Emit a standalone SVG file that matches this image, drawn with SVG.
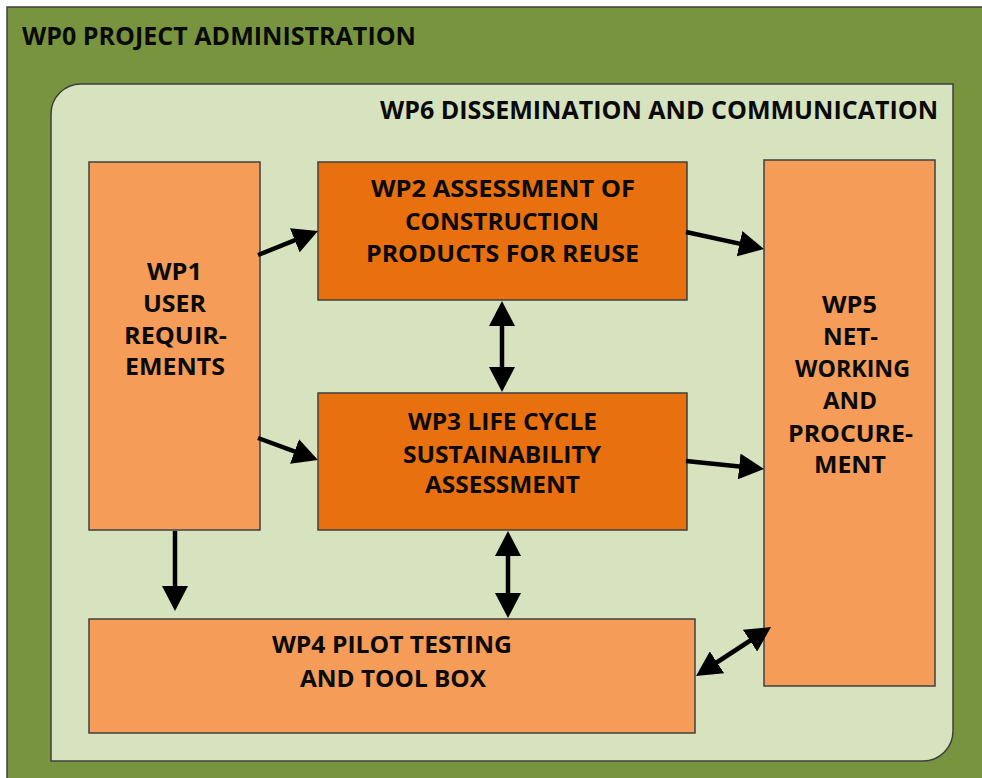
<svg xmlns="http://www.w3.org/2000/svg" width="982" height="778" viewBox="0 0 982 778">
<defs>
<style>
.box{stroke:#404040;stroke-width:1.5}
.dark{fill:#E8700E}
.light{fill:#F49C58}
.t{font-family:"Open Sans","Liberation Sans",sans-serif;font-weight:700;fill:#0a0a0a;text-anchor:middle;font-size:23px}
.h{font-family:"Open Sans","Liberation Sans",sans-serif;font-weight:700;fill:#0a0a0a;font-size:25px}
.c{stroke:#000;stroke-width:4.5;fill:none}
.one{marker-end:url(#ah)}
.two{marker-start:url(#ah);marker-end:url(#ah)}
</style>
<marker id="ah" viewBox="0 0 25 26" refX="15" refY="13" markerWidth="25" markerHeight="26" markerUnits="userSpaceOnUse" orient="auto-start-reverse">
<path d="M0,0 L25,13 L0,26 Z" fill="#000"/>
</marker>
</defs>
<rect width="982" height="778" fill="#fff"/>
<g id="wp0">
<rect x="7" y="7" width="990" height="790" fill="#78943E" stroke="#404040" stroke-width="1.5"/>
<text class="h" x="22" y="45" textLength="394" lengthAdjust="spacingAndGlyphs">WP0 PROJECT ADMINISTRATION</text>
</g>
<g id="wp6">
<path d="M51,114 A30,30 0 0 1 81,84 L953,84 L953,731 A30,30 0 0 1 923,761 L51,761 Z" fill="#D7E3BF" stroke="#404040" stroke-width="1.5"/>
<text class="h" x="380" y="119" textLength="558" lengthAdjust="spacingAndGlyphs">WP6 DISSEMINATION AND COMMUNICATION</text>
</g>
<g id="wp1">
<rect class="box light" x="89" y="162" width="171" height="368"/>
<text class="t" x="174.5" y="280" textLength="55" lengthAdjust="spacingAndGlyphs">WP1</text>
<text class="t" x="174.5" y="312" textLength="63" lengthAdjust="spacingAndGlyphs">USER</text>
<text class="t" x="175.5" y="344" textLength="103" lengthAdjust="spacingAndGlyphs">REQUIR-</text>
<text class="t" x="175" y="375" textLength="100" lengthAdjust="spacingAndGlyphs">EMENTS</text>
</g>
<g id="wp2">
<rect class="box dark" x="318" y="162" width="369" height="138"/>
<text class="t" x="503" y="197" textLength="264" lengthAdjust="spacingAndGlyphs">WP2 ASSESSMENT OF</text>
<text class="t" x="502" y="230" textLength="194" lengthAdjust="spacingAndGlyphs">CONSTRUCTION</text>
<text class="t" x="502.5" y="262" textLength="273" lengthAdjust="spacingAndGlyphs">PRODUCTS FOR REUSE</text>
</g>
<g id="wp3">
<rect class="box dark" x="318" y="393" width="369" height="137"/>
<text class="t" x="502.5" y="430" textLength="189" lengthAdjust="spacingAndGlyphs">WP3 LIFE CYCLE</text>
<text class="t" x="502" y="463" textLength="198" lengthAdjust="spacingAndGlyphs">SUSTAINABILITY</text>
<text class="t" x="502.5" y="493" textLength="155" lengthAdjust="spacingAndGlyphs">ASSESSMENT</text>
</g>
<g id="wp4">
<rect class="box light" x="89" y="619" width="606" height="114"/>
<text class="t" x="392" y="653" textLength="240" lengthAdjust="spacingAndGlyphs">WP4 PILOT TESTING</text>
<text class="t" x="393" y="687" textLength="186" lengthAdjust="spacingAndGlyphs">AND TOOL BOX</text>
</g>
<g id="wp5">
<rect class="box light" x="764" y="160" width="171" height="526"/>
<text class="t" x="849.5" y="313" textLength="55" lengthAdjust="spacingAndGlyphs">WP5</text>
<text class="t" x="850.5" y="345" textLength="55" lengthAdjust="spacingAndGlyphs">NET-</text>
<text class="t" x="852.5" y="377" textLength="115" lengthAdjust="spacingAndGlyphs">WORKING</text>
<text class="t" x="850" y="409" textLength="54" lengthAdjust="spacingAndGlyphs">AND</text>
<text class="t" x="850.5" y="442" textLength="125" lengthAdjust="spacingAndGlyphs">PROCURE-</text>
<text class="t" x="850" y="473" textLength="72" lengthAdjust="spacingAndGlyphs">MENT</text>
</g>
<g id="connectors">
<line class="c one" x1="258" y1="255" x2="308.7" y2="234.7"/>
<line class="c one" x1="258" y1="438" x2="308.6" y2="456.6"/>
<line class="c two" x1="502" y1="311" x2="502" y2="382"/>
<line class="c two" x1="508" y1="541" x2="508" y2="608"/>
<line class="c one" x1="686" y1="232" x2="754.2" y2="246.9"/>
<line class="c one" x1="686" y1="461" x2="754.1" y2="468"/>
<line class="c two" x1="704.4" y1="670.5" x2="762.6" y2="632.5"/>
<line class="c one" x1="175" y1="531" x2="175" y2="601"/>
</g>
</svg>
